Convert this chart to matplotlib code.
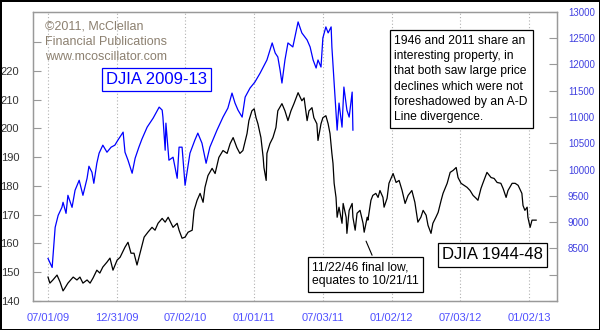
import numpy as np
import matplotlib
matplotlib.use("Agg")
import matplotlib.pyplot as plt
import matplotlib.dates as mdates

plt.rcParams['font.family'] = ['Liberation Sans', 'DejaVu Sans']

start = np.datetime64('2009-07-01')

# DJIA 2009-13 (right axis): calendar days since 07/01/09, index level
djia09_days = [0, 11, 19, 27, 37, 40, 48, 53, 64, 72, 83, 93, 104, 109, 117, 122, 130, 136,
               146, 157, 168, 178, 186, 200, 205, 213, 224, 232, 242, 250, 264, 280, 296, 304,
               306, 312, 314, 322, 333, 344, 349, 357, 365, 378, 391, 399, 410, 421, 431, 450,
               466, 479, 490, 498, 506, 517, 525, 538, 551, 565, 583, 597, 605, 612, 618, 623,
               631, 639, 652, 666, 676, 690, 698, 706, 714, 719, 727, 732, 740, 746, 754, 756,
               762, 770, 775, 783, 788, 796, 802, 810, 812]
djia09_vals = [8309, 8137, 8900, 9129, 9281, 9377, 9167, 9510, 9281, 9606, 9796, 9510, 9834,
               10063, 9949, 9739, 10120, 10311, 10464, 10330, 10426, 10464, 10559, 10712, 10330,
               10178, 9930, 10216, 10426, 10578, 10807, 10979, 11188, 11131, 10998, 10368, 10883,
               10178, 10235, 9834, 10426, 10426, 9701, 10311, 10559, 10693, 10502, 10120, 10426,
               10750, 10998, 11169, 11455, 11265, 11131, 10998, 11379, 11551, 11665, 11837, 12085,
               12409, 12218, 12142, 11894, 11646, 12085, 12409, 12333, 12809, 12600, 12466, 12333,
               12085, 11932, 12085, 11951, 12504, 12714, 12600, 12714, 12333, 11646, 10750, 11265,
               10807, 11570, 11131, 10998, 11474, 10750]

# DJIA 1944-48 (left axis), shifted onto the same calendar
djia44_days = [0, 5, 13, 24, 32, 40, 45, 53, 67, 77, 85, 93, 104, 112, 120, 130, 138, 146, 157,
               165, 173, 184, 192, 205, 213, 221, 229, 237, 245, 256, 266, 277, 285, 293, 304, 312,
               320, 333, 344, 349, 357, 365, 373, 384, 389, 397, 405, 413, 418, 426, 437, 445, 455,
               466, 477, 485, 493, 503, 511, 519, 530, 535, 543, 549, 554, 559, 567, 573, 575, 581,
               583, 591, 599, 607, 612, 623, 631, 639, 647, 655, 666, 676, 682, 690, 695, 703, 708,
               716, 719, 727, 732, 740, 746, 751, 756, 759, 762, 767, 770, 775, 783, 786, 794, 796,
               802, 810, 812, 818, 823, 831, 839, 842, 850, 852, 860, 865, 873, 879, 884, 892, 895,
               903, 908, 919, 927, 935, 943, 951, 959, 969, 977, 985, 993, 999, 1007, 1012, 1020,
               1025, 1033, 1039, 1047, 1052, 1063, 1071, 1079, 1087, 1092, 1100, 1108, 1116, 1124,
               1132, 1140, 1145, 1153, 1158, 1169, 1180, 1188, 1196, 1206, 1212, 1220, 1225, 1236,
               1244, 1252, 1262, 1265, 1270, 1276, 1278, 1284, 1289, 1294, 1300]
djia44_vals = [148.3, 146.2, 147.3, 149.0, 146.6, 143.5, 144.5, 146.2, 148.3, 147.3, 148.3, 146.2,
               147.3, 146.2, 148.0, 150.7, 149.7, 151.8, 153.5, 154.9, 150.7, 154.2, 155.2, 158.7,
               160.4, 156.6, 156.6, 152.5, 156.6, 162.2, 163.9, 165.6, 164.6, 167.0, 168.7, 167.4,
               169.1, 165.6, 167.0, 164.6, 161.8, 162.2, 163.9, 164.6, 171.5, 175.0, 177.4, 174.3,
               179.5, 183.6, 186.1, 184.3, 189.9, 192.3, 191.3, 194.7, 196.8, 193.3, 191.3, 192.3,
               198.2, 202.7, 206.1, 206.8, 203.7, 201.6, 196.8, 189.9, 186.4, 181.9, 191.3, 194.7,
               196.8, 200.3, 206.1, 208.6, 206.1, 202.7, 206.1, 208.6, 212.4, 209.6, 210.6, 202.7,
               206.1, 207.2, 203.7, 201.6, 195.8, 201.6, 203.7, 204.4, 201.6, 198.2, 191.3, 187.8,
               180.9, 176.0, 169.1, 172.6, 167.0, 173.9, 169.1, 163.5, 171.5, 173.9, 169.1, 164.6,
               170.5, 171.5, 167.0, 163.9, 169.1, 168.1, 175.0, 176.7, 177.4, 176.0, 178.4, 176.0,
               172.6, 175.7, 180.9, 184.3, 181.2, 181.9, 178.4, 173.9, 176.7, 178.4, 174.3, 167.4,
               169.1, 171.5, 169.8, 166.3, 163.5, 167.0, 169.1, 170.8, 175.0, 177.4, 180.9, 184.7,
               185.4, 186.4, 182.9, 180.9, 180.2, 179.5, 178.4, 176.7, 175.7, 175.0, 179.1, 180.9,
               184.7, 182.9, 182.6, 181.2, 180.9, 179.1, 176.0, 178.4, 180.9, 180.9, 180.2, 177.4,
               173.2, 171.5, 172.6, 169.1, 165.6, 168.1, 168.1, 168.1]

tick_dates = ['2009-07-01', '2009-12-31', '2010-07-02', '2011-01-01',
              '2011-07-03', '2012-01-02', '2012-07-03', '2013-01-02']
left_ticks = [140, 150, 160, 170, 180, 190, 200, 210, 220, 230]
left_labels = ['140', '150', '160', '170', '180', '190', '200', '210', '220', '']
right_ticks = list(range(7500, 13001, 500))
right_labels = ['', ''] + [str(v) for v in right_ticks[2:]]

d09 = start + np.array(djia09_days, dtype='timedelta64[D]')
d44 = start + np.array(djia44_days, dtype='timedelta64[D]')
xt = np.array(tick_dates, dtype='datetime64[D]')

fig = plt.figure(figsize=(6, 3.3), dpi=100, edgecolor='black', linewidth=2)
ax = fig.add_axes([0.055, 0.088, 0.873, 0.876])
ax2 = ax.twinx()

ax.plot(d44, djia44_vals, color='black', lw=0.9)
ax2.plot(d09, djia09_vals, color='#0000ff', lw=0.9)

ax.set_xlim(start - np.timedelta64(40, 'D'), start + np.timedelta64(1355, 'D'))
ax.set_ylim(140, 240.5)
ax2.set_ylim(7500, 13000)

ax.set_xticks(xt)
ax.xaxis.set_major_formatter(mdates.DateFormatter('%m/%d/%y'))
ax.grid(axis='x', color='#b0b0b0', linestyle=(0, (1, 2)), lw=0.8)
ax.tick_params(axis='x', length=0, pad=9, labelsize=8, labelcolor='#5050ff')

ax.set_yticks(left_ticks)
ax.set_yticklabels(left_labels)
ax.tick_params(axis='y', direction='in', length=6, color='#999999', labelsize=8,
               labelcolor='#333333', pad=10)
ax2.set_yticks(right_ticks)
ax2.set_yticklabels(right_labels)
ax2.tick_params(axis='y', direction='in', length=6, color='#999999', labelsize=7,
                labelcolor='#4040e0', pad=8)

for a in (ax, ax2):
    for s in a.spines.values():
        s.set_color('#999999')
        s.set_linewidth(0.9)

ax.text(0.022, 0.97, '©2011, McClellan\nFinancial Publications\nwww.mcoscillator.com',
        transform=ax.transAxes, ha='left', va='top', fontsize=9, color='#8c8070',
        linespacing=1.35)

ax.text(0.14, 0.765, 'DJIA 2009-13', transform=ax.transAxes, ha='left', va='center',
        fontsize=12, color='#0000ff',
        bbox=dict(boxstyle='square,pad=0.25', fc='white', ec='#0000ff', lw=0.9))

ax.text(0.781, 0.159, 'DJIA 1944-48', transform=ax.transAxes, ha='left', va='center',
        fontsize=12, color='black',
        bbox=dict(boxstyle='square,pad=0.25', fc='white', ec='black', lw=0.9))

ax.text(0.69, 0.92, '1946 and 2011 share an\ninteresting property, in\nthat both saw large price\n'
        'declines which were not\nforeshadowed by an A-D\nLine divergence.',
        transform=ax.transAxes, ha='left', va='top', fontsize=8.7, color='black',
        linespacing=1.36,
        bbox=dict(boxstyle='square,pad=0.4', fc='white', ec='black', lw=0.9))

# callout for the final 1946 low
ax.text(0.533, 0.092, '11/22/46 final low,\nequates to 10/21/11', transform=ax.transAxes,
        ha='left', va='center', fontsize=8.7, linespacing=1.25,
        bbox=dict(boxstyle='square,pad=0.35', fc='white', ec='black', lw=0.9))
ax.annotate('', xy=(start + np.timedelta64(847, 'D'), 160.8),
            xytext=(start + np.timedelta64(863, 'D'), 155.9),
            arrowprops=dict(arrowstyle='-', color='black', lw=0.8, shrinkA=0, shrinkB=0))

fig.savefig('out.png', dpi=100)
